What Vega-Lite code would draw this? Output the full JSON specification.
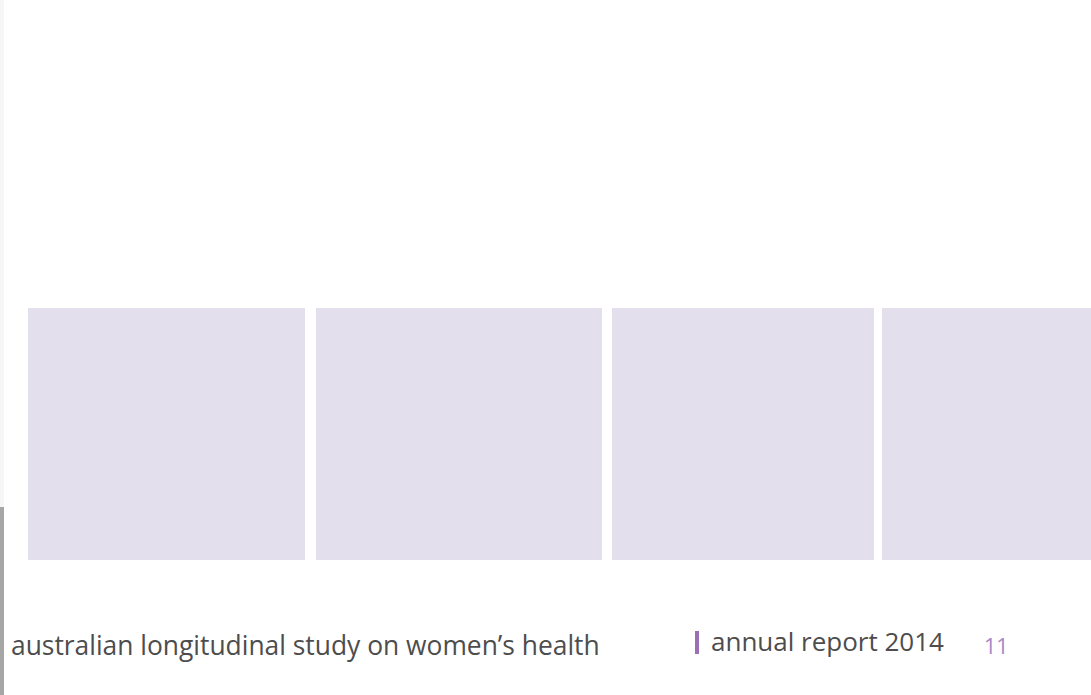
{
  "$schema": "https://vega.github.io/schema/vega-lite/v6.json",
  "width": 1091,
  "height": 695,
  "padding": 0,
  "autosize": {"type": "none"},
  "background": "#ffffff",
  "config": {"view": {"stroke": null}},
  "resolve": {"scale": {"color": "independent"}},
  "layer": [
    {
      "data": {"values": [
        {"part": "edge-light", "x0": 0, "x1": 4, "y0": 0, "y1": 507},
        {"part": "edge-dark", "x0": 0, "x1": 4, "y0": 507, "y1": 695},
        {"part": "panel", "x0": 28, "x1": 305, "y0": 308, "y1": 560},
        {"part": "panel", "x0": 316, "x1": 602, "y0": 308, "y1": 560},
        {"part": "panel", "x0": 612, "x1": 874, "y0": 308, "y1": 560},
        {"part": "panel", "x0": 882, "x1": 1091, "y0": 308, "y1": 560},
        {"part": "bar", "x0": 695, "x1": 699, "y0": 631, "y1": 654}
      ]},
      "mark": {"type": "rect"},
      "encoding": {
        "x": {"field": "x0", "type": "quantitative", "scale": {"domain": [0, 1091]}, "axis": null},
        "x2": {"field": "x1"},
        "y": {"field": "y0", "type": "quantitative", "scale": {"domain": [0, 695], "reverse": true}, "axis": null},
        "y2": {"field": "y1"},
        "color": {"field": "part", "type": "nominal", "legend": null,
          "scale": {"domain": ["edge-light", "edge-dark", "panel", "bar"], "range": ["#f6f6f6", "#a6a6a6", "#e4dfec", "#9a6fb6"]}}
      }
    },
    {
      "data": {"values": [
        {"label": "australian longitudinal study on women’s health", "x": 11, "y": 655}
      ]},
      "mark": {"type": "text", "align": "left", "baseline": "alphabetic", "font": "Open Sans", "fontSize": 26.4, "color": "#4d4d4d"},
      "encoding": {
        "x": {"field": "x", "type": "quantitative", "scale": {"domain": [0, 1091]}, "axis": null},
        "y": {"field": "y", "type": "quantitative", "scale": {"domain": [0, 695], "reverse": true}, "axis": null},
        "text": {"field": "label"}
      }
    },
    {
      "data": {"values": [
        {"label": "annual report 2014", "x": 711, "y": 651}
      ]},
      "mark": {"type": "text", "align": "left", "baseline": "alphabetic", "font": "Open Sans", "fontSize": 26, "color": "#4d4d4d"},
      "encoding": {
        "x": {"field": "x", "type": "quantitative", "scale": {"domain": [0, 1091]}, "axis": null},
        "y": {"field": "y", "type": "quantitative", "scale": {"domain": [0, 695], "reverse": true}, "axis": null},
        "text": {"field": "label"}
      }
    },
    {
      "data": {"values": [
        {"label": "11", "x": 984, "y": 654}
      ]},
      "mark": {"type": "text", "align": "left", "baseline": "alphabetic", "font": "Open Sans", "fontSize": 21.5, "color": "#a687c8"},
      "encoding": {
        "x": {"field": "x", "type": "quantitative", "scale": {"domain": [0, 1091]}, "axis": null},
        "y": {"field": "y", "type": "quantitative", "scale": {"domain": [0, 695], "reverse": true}, "axis": null},
        "text": {"field": "label"}
      }
    }
  ]
}
